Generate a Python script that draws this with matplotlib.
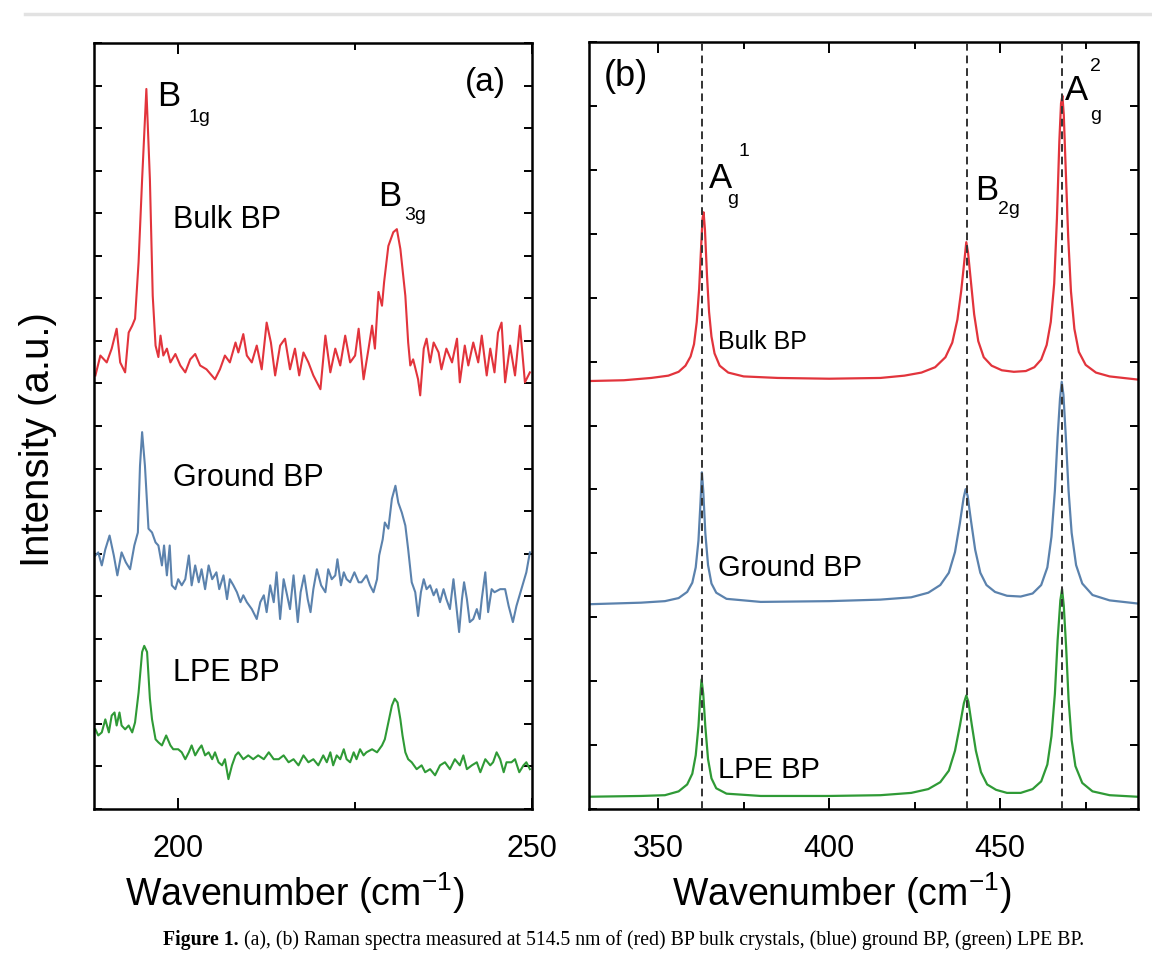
import matplotlib
matplotlib.use("Agg")
import matplotlib.pyplot as plt
from matplotlib.ticker import MultipleLocator, FixedLocator
from matplotlib.lines import Line2D

plt.rcParams['font.family'] = ['Liberation Sans', 'DejaVu Sans']
plt.rcParams['mathtext.fontset'] = 'custom'
plt.rcParams['mathtext.rm'] = 'Liberation Sans'
plt.rcParams['mathtext.it'] = 'Liberation Sans:italic'
plt.rcParams['mathtext.bf'] = 'Liberation Sans:bold'

# ---------------- Panel (a) data: wavenumber (cm-1) and intensity (a.u.) ----------------
red_a_w = [188.3, 189.0, 189.9, 190.6, 191.3, 191.8, 192.5, 193.0, 193.5, 193.9,
           194.4, 194.9, 195.5, 196.0, 196.4, 196.8, 197.2, 197.5, 197.9, 198.4,
           198.9, 199.6, 200.3, 201.0, 201.7, 202.4, 203.1, 204.0, 205.2, 205.9,
           206.6, 207.3, 208.1, 208.5, 209.2, 209.7, 210.4, 211.1, 211.8, 212.5,
           213.1, 213.7, 214.4, 215.1, 215.8, 216.5, 217.1, 217.7, 218.4, 219.1,
           219.6, 220.1, 220.8, 221.5, 222.2, 222.9, 223.6, 224.3, 225.0, 225.5,
           226.2, 226.9, 227.4, 227.8, 228.3, 228.8, 229.1, 229.7, 230.4, 230.9,
           231.4, 232.1, 232.5, 232.8, 233.2, 233.9, 234.2, 234.7, 235.1, 235.6,
           236.1, 236.8, 237.2, 237.9, 238.7, 239.4, 239.8, 240.5, 241.0, 241.7,
           242.4, 242.9, 243.6, 244.1, 244.7, 245.2, 245.7, 246.2, 246.9, 247.6,
           248.3, 249.0, 249.7]
red_a_i = [56.6, 59.2, 58.3, 60.1, 62.7, 58.3, 57.0, 62.2, 63.1, 64.0,
           71.4, 82.2, 94.0, 82.2, 67.0, 60.5, 59.0, 61.8, 59.2, 60.1,
           58.3, 59.4, 57.9, 57.0, 58.7, 59.4, 57.9, 57.4, 56.1, 57.4,
           59.2, 58.3, 60.9, 59.6, 62.0, 59.2, 58.3, 60.5, 57.4, 63.5,
           60.9, 56.6, 60.5, 61.4, 57.4, 60.1, 56.6, 59.6, 58.3, 56.6,
           55.7, 54.8, 61.8, 57.0, 60.1, 57.9, 61.8, 58.3, 59.2, 62.7,
           56.1, 60.1, 63.1, 60.1, 67.5, 65.7, 68.8, 73.5, 75.3, 75.7,
           73.1, 67.0, 60.9, 57.9, 58.7, 56.1, 54.0, 60.1, 61.4, 58.3,
           60.9, 59.6, 57.4, 60.1, 58.3, 61.4, 55.7, 60.5, 57.9, 60.9,
           58.3, 61.8, 56.6, 60.1, 57.0, 62.2, 63.5, 55.7, 60.5, 56.6,
           63.1, 55.7, 57.0]

blue_a_w = [188.3, 188.7, 189.2, 189.7, 190.3, 190.9, 191.4, 192.0, 192.6, 193.2,
            193.8, 194.3, 194.6, 194.9, 195.3, 195.8, 196.3, 196.8, 197.2, 197.7,
            198.0, 198.4, 198.8, 199.1, 199.6, 200.0, 200.5, 201.0, 201.5, 201.9,
            202.4, 202.9, 203.3, 203.8, 204.3, 204.8, 205.4, 205.8, 206.4, 206.9,
            207.3, 207.8, 208.3, 208.8, 209.2, 209.7, 210.4, 211.1, 211.6, 212.1,
            212.5, 213.0, 213.5, 213.9, 214.4, 214.9, 215.3, 215.8, 216.3, 216.9,
            217.3, 217.8, 218.3, 218.7, 219.1, 219.6, 220.2, 220.8, 221.2, 221.7,
            222.2, 222.5, 223.0, 223.4, 223.8, 224.3, 224.9, 225.5, 225.9, 226.6,
            227.1, 227.6, 228.1, 228.4, 228.9, 229.2, 229.7, 230.2, 230.7, 231.1,
            231.6, 232.1, 232.5, 233.0, 233.5, 233.9, 234.3, 234.7, 235.1, 235.6,
            236.1, 236.5, 237.0, 237.5, 237.9, 238.4, 238.9, 239.4, 239.7, 240.1,
            240.4, 240.8, 241.2, 241.7, 242.2, 242.6, 242.9, 243.4, 243.8, 244.3,
            244.7, 245.5, 246.2, 246.7, 247.3, 247.8, 248.5, 249.2, 249.7]
blue_a_i = [33.1, 33.5, 31.8, 33.9, 35.7, 33.1, 30.5, 33.5, 32.2, 31.3,
            34.4, 36.1, 44.8, 49.2, 44.8, 36.6, 36.1, 34.8, 34.4, 31.8,
            34.4, 30.5, 34.4, 29.2, 28.7, 30.0, 29.2, 30.0, 33.1, 29.2,
            31.8, 29.6, 31.3, 28.7, 31.8, 30.0, 30.9, 28.7, 30.5, 27.4,
            30.0, 29.2, 28.3, 27.0, 27.9, 27.0, 26.1, 24.8, 27.0, 27.9,
            25.7, 29.2, 27.0, 30.9, 24.8, 30.0, 28.3, 26.1, 30.5, 24.4,
            28.3, 30.5, 27.4, 25.7, 28.7, 31.3, 29.2, 28.3, 31.3, 30.0,
            30.5, 32.6, 29.2, 30.9, 30.0, 29.6, 30.9, 29.6, 29.6, 30.5,
            29.2, 28.3, 30.0, 33.1, 35.2, 37.4, 36.6, 40.5, 42.2, 40.0,
            38.7, 37.0, 33.9, 29.6, 28.3, 25.2, 28.3, 30.0, 28.7, 29.2,
            27.9, 28.7, 27.0, 28.7, 27.4, 26.1, 30.0, 25.7, 23.1, 27.4,
            29.6, 27.4, 24.4, 24.8, 26.1, 24.8, 27.4, 30.9, 25.7, 28.7,
            28.3, 28.7, 28.7, 26.5, 24.4, 26.5, 28.7, 30.9, 33.5]

green_a_w = [188.3, 188.7, 189.2, 189.7, 190.2, 190.6, 191.0, 191.3, 191.7, 192.0,
             192.5, 193.0, 193.5, 193.9, 194.4, 194.9, 195.2, 195.6, 196.0, 196.3,
             196.8, 197.2, 197.7, 198.3, 198.9, 199.3, 200.0, 200.5, 201.0, 201.5,
             201.9, 202.4, 202.9, 203.3, 203.8, 204.3, 204.8, 205.2, 205.7, 206.2,
             206.6, 207.1, 207.6, 208.1, 208.5, 209.2, 209.9, 210.6, 211.3, 212.1,
             212.8, 213.5, 214.2, 214.9, 215.6, 216.3, 217.0, 217.7, 218.4, 219.1,
             219.8, 220.5, 221.0, 221.5, 221.9, 222.4, 222.9, 223.4, 223.8, 224.3,
             224.8, 225.2, 225.7, 226.2, 226.6, 227.4, 228.1, 228.8, 229.2, 229.7,
             230.2, 230.6, 231.0, 231.4, 231.7, 232.1, 232.5, 233.0, 233.7, 234.4,
             234.9, 235.6, 236.3, 237.0, 237.7, 238.4, 239.1, 239.8, 240.3, 240.8,
             241.5, 242.2, 242.7, 243.4, 244.1, 244.5, 245.0, 245.5, 246.0, 246.4,
             247.1, 247.6, 248.2, 248.8, 249.2, 249.7]
green_a_i = [10.4, 9.6, 10.0, 11.7, 10.0, 12.2, 12.6, 10.9, 12.6, 10.9,
             10.4, 10.9, 10.0, 11.3, 15.2, 20.5, 21.3, 20.5, 14.4, 11.7,
             9.1, 8.7, 8.3, 9.6, 8.3, 7.8, 7.8, 7.4, 6.5, 7.4,
             8.3, 7.0, 7.8, 8.3, 7.0, 7.4, 6.5, 7.4, 6.1, 5.7,
             6.5, 3.9, 5.7, 7.0, 7.4, 6.5, 7.0, 6.5, 7.0, 6.5,
             7.4, 6.5, 6.5, 7.0, 6.1, 6.5, 5.7, 7.0, 6.1, 6.5,
             5.7, 7.0, 6.1, 7.4, 5.7, 7.0, 6.5, 7.8, 6.5, 6.1,
             7.4, 6.5, 7.8, 7.0, 7.4, 7.8, 7.4, 8.3, 9.1, 11.3,
             13.5, 14.4, 13.9, 11.7, 9.6, 7.4, 6.5, 6.1, 5.2, 5.7,
             4.8, 5.2, 4.4, 5.7, 6.1, 5.2, 6.5, 5.7, 7.0, 5.2,
             5.7, 6.1, 4.8, 6.5, 5.7, 6.1, 7.4, 6.5, 4.8, 6.1,
             6.1, 6.5, 4.8, 5.7, 6.1, 5.2]

# ---------------- Panel (b) data ----------------
red_b_w = [330.0, 340.0, 348.0, 353.0, 356.0, 358.0, 359.5, 360.5, 361.3, 362.0,
           362.6, 363.0, 363.3, 363.7, 364.3, 364.9, 365.6, 366.5, 368.0, 370.5,
           375.0, 385.0, 400.0, 415.0, 422.0, 427.0, 431.0, 434.0, 436.0, 437.5,
           438.6, 439.5, 440.1, 440.6, 441.4, 442.4, 443.6, 445.2, 447.5, 450.5,
           454.0, 457.5, 460.0, 462.0, 463.6, 464.8, 465.8, 466.6, 467.3, 467.8,
           468.2, 468.6, 469.2, 469.9, 470.7, 471.7, 473.0, 475.0, 478.0, 482.0,
           490.0]
red_b_i = [55.8, 55.9, 56.2, 56.5, 57.0, 57.8, 59.0, 60.6, 63.5, 67.8,
           73.5, 77.0, 77.8, 75.5, 69.5, 64.8, 61.6, 59.4, 57.8, 56.9,
           56.4, 56.2, 56.1, 56.2, 56.5, 56.9, 57.6, 58.9, 60.8, 63.8,
           67.5, 71.3, 73.9, 72.6, 69.0, 64.5, 61.0, 58.9, 57.8, 57.2,
           57.0, 57.1, 57.6, 58.6, 60.5, 63.5, 68.5, 77.0, 87.0, 92.0,
           93.0, 90.5, 83.0, 74.5, 67.5, 62.6, 59.6, 57.9, 56.9, 56.4,
           56.0]

blue_b_w = [330.0, 345.0, 352.0, 356.0, 358.5, 360.0, 361.0, 361.8, 362.4, 362.8,
            363.2, 363.8, 364.6, 365.6, 367.0, 370.0, 380.0, 400.0, 415.0, 424.0,
            429.0, 432.5, 435.0, 436.8, 438.2, 439.3, 439.9, 440.5, 441.5, 442.7,
            444.2, 446.0, 448.5, 452.0, 456.0, 459.5, 462.0, 463.8, 465.0, 466.0,
            466.8, 467.5, 468.0, 468.5, 469.2, 470.0, 470.9, 472.2, 474.0, 477.0,
            482.0, 490.0]
blue_b_i = [26.7, 26.9, 27.1, 27.5, 28.3, 29.5, 31.5, 35.0, 40.0, 43.9,
            41.5, 36.0, 31.8, 29.4, 28.2, 27.4, 27.0, 27.1, 27.3, 27.6,
            28.2, 29.2, 30.8, 33.5, 37.2, 40.5, 41.7, 40.8, 37.5, 33.8,
            30.8, 29.2, 28.3, 27.8, 27.7, 28.1, 29.2, 31.5, 35.5, 41.5,
            48.5, 53.5, 55.7, 54.0, 48.5, 41.5, 36.0, 31.8, 29.4, 27.9,
            27.2, 26.8]

green_b_w = [330.0, 345.0, 352.0, 356.0, 358.5, 360.0, 361.0, 361.8, 362.3, 362.7,
             363.2, 363.8, 364.6, 365.6, 367.0, 370.0, 380.0, 400.0, 415.0, 424.0,
             429.0, 432.5, 435.0, 436.8, 438.2, 439.4, 440.1, 440.7, 441.7, 442.9,
             444.4, 446.2, 448.8, 452.0, 456.0, 459.5, 462.0, 463.8, 465.0, 466.0,
             466.8, 467.6, 468.1, 468.6, 469.3, 470.0, 470.9, 472.0, 474.0, 477.0,
             482.0, 490.0]
green_b_i = [1.6, 1.7, 1.8, 2.3, 3.2, 4.6, 7.0, 10.8, 14.5, 16.9,
             15.0, 10.8, 6.5, 4.0, 2.7, 2.0, 1.7, 1.7, 1.8, 2.1,
             2.6, 3.5, 5.0, 7.6, 10.8, 13.8, 14.8, 14.0, 11.0, 7.6,
             4.8, 3.2, 2.5, 2.1, 2.1, 2.6, 3.6, 5.8, 9.5, 15.0,
             22.0, 27.2, 28.7, 26.5, 21.0, 14.3, 9.0, 5.6, 3.4, 2.3,
             1.8, 1.6]

peak_positions_b = [362.9, 440.4, 468.1]

sample_labels = ["Bulk BP", "Ground BP", "LPE BP"]
colors = ["#e2343c", "#5b82ad", "#2f9a36"]

W, H = 1152, 954
fig = plt.figure(figsize=(W / 100, H / 100), dpi=100)

def fx(x): return x / W
def fy(y): return 1 - y / H

def ftext(x, y, s, size, **kw):
    return fig.text(fx(x), fy(y), s, fontsize=size, ha=kw.pop('ha', 'left'),
                    va=kw.pop('va', 'center'), **kw)

# scan artefact line at top
fig.add_artist(Line2D([fx(25), 1.0], [fy(15), fy(15)], color="#e2e2e2", lw=2.5,
                      transform=fig.transFigure))

ax_a = fig.add_axes([fx(94), fy(810), (532 - 94) / W, (810 - 44) / H])
ax_b = fig.add_axes([fx(589), fy(810), (1138 - 589) / W, (810 - 43) / H])

for w, i, c in zip([red_a_w, blue_a_w, green_a_w], [red_a_i, blue_a_i, green_a_i], colors):
    ax_a.plot(w, i, color=c, lw=1.5)
for w, i, c in zip([red_b_w, blue_b_w, green_b_w], [red_b_i, blue_b_i, green_b_i], colors):
    ax_b.plot(w, i, color=c, lw=1.6)
for p in peak_positions_b:
    ax_b.axvline(p, color="#333333", lw=1.4, ls=(0, (4, 2.5)), zorder=3)

ax_a.set_xlim(188.1, 250)
ax_a.set_ylim(0, 100)
ax_b.set_xlim(329.8, 490.3)
ax_b.set_ylim(0, 100)

ax_a.xaxis.set_major_locator(FixedLocator([200, 250]))
ax_a.xaxis.set_minor_locator(FixedLocator([225]))
ax_a.yaxis.set_major_locator(FixedLocator([k * 100 / 18 for k in range(19)]))
ax_b.xaxis.set_major_locator(MultipleLocator(50))
ax_b.xaxis.set_minor_locator(MultipleLocator(25))
ax_b.yaxis.set_major_locator(FixedLocator([k * 100 / 12 for k in range(13)]))

for ax in (ax_a, ax_b):
    ax.tick_params(which='both', direction='in', top=True, right=True, width=1.4)
    ax.tick_params(which='major', length=8, labelsize=22, pad=17)
    ax.tick_params(which='minor', length=5)
    ax.tick_params(axis='y', labelleft=False, length=6)
    for s in ax.spines.values():
        s.set_linewidth(1.8)
    ax.xaxis.set_major_formatter(plt.FuncFormatter(lambda v, p: f"{v:.0f}"))

# axis labels
ftext(295, 893, "Wavenumber (cm$^{-1}$)", 27, ha='center')
ftext(842, 893, "Wavenumber (cm$^{-1}$)", 27, ha='center')
ftext(38, 440, "Intensity (a.u.)", 29, ha='center', rotation=90)

# panel (a) annotations
ftext(465, 82, "(a)", 24)
ftext(157, 96, "B", 25)
ftext(189, 117, "1g", 14)
ftext(378, 197, "B", 25)
ftext(404, 216, "3g", 14)
ftext(173, 220, sample_labels[0], 22)
ftext(173, 478, sample_labels[1], 22)
ftext(173, 673, sample_labels[2], 22)

# panel (b) annotations
ftext(604, 76, "(b)", 26)
ftext(709, 178, "A", 25)
ftext(738, 152, "1", 14)
ftext(727, 200, "g", 14)
ftext(975, 191, "B", 25)
ftext(998, 210, "2g", 14)
ftext(1065, 90, "A", 25)
ftext(1090, 67, "2", 14)
ftext(1090, 116, "g", 14)
ftext(718, 342, sample_labels[0], 18)
ftext(718, 568, sample_labels[1], 21)
ftext(718, 770, sample_labels[2], 21)

# caption
serif = ['Liberation Serif', 'DejaVu Serif']
t1 = ftext(163, 940, "Figure 1.", 14.2, family=serif, fontweight='bold')
renderer = fig.canvas.get_renderer()
bb = t1.get_window_extent(renderer=renderer)
ftext(bb.x1 + 5, 940,
      "(a), (b) Raman spectra measured at 514.5 nm of (red) BP bulk crystals, (blue) ground BP, (green) LPE BP.",
      14.2, family=serif)

fig.savefig("out.png", dpi=100)
